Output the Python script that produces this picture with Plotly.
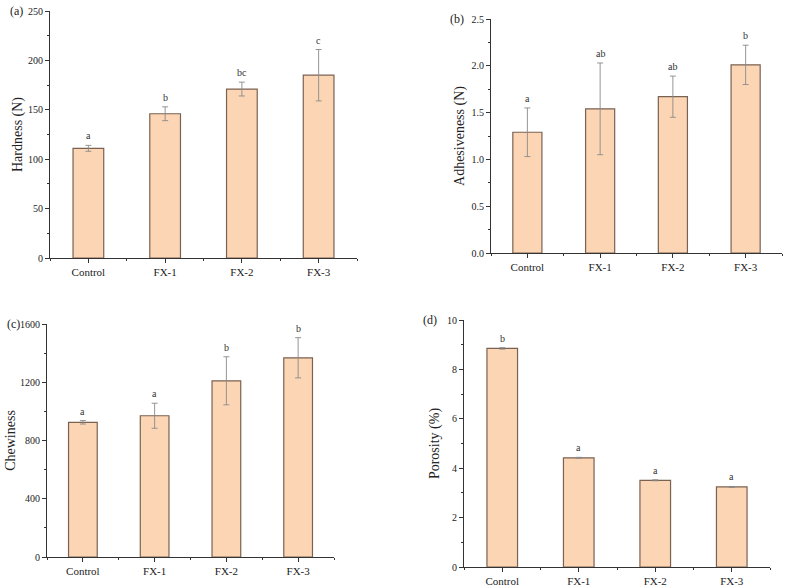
import plotly.graph_objects as go
from plotly.subplots import make_subplots

categories = ["Control", "FX-1", "FX-2", "FX-3"]

hardness = [111, 146, 171, 185]
hardness_err = [3, 7, 7, 26]
hardness_letters = ["a", "b", "bc", "c"]

adhesiveness = [1.29, 1.54, 1.67, 2.01]
adhesiveness_err = [0.26, 0.49, 0.22, 0.21]
adhesiveness_letters = ["a", "ab", "ab", "b"]

chewiness = [925, 970, 1210, 1368]
chewiness_err = [12, 86, 165, 138]
chewiness_letters = ["a", "a", "b", "b"]

porosity = [8.85, 4.42, 3.51, 3.24]
porosity_err = [0.03, 0.02, 0.02, 0.02]
porosity_letters = ["b", "a", "a", "a"]

panels = [
    ("(a)", "Hardness (N)", hardness, hardness_err, hardness_letters, [0, 250], 50, 25),
    ("(b)", "Adhesiveness (N)", adhesiveness, adhesiveness_err, adhesiveness_letters, [0, 2.5], 0.5, 0.25),
    ("(c)", "Chewiness", chewiness, chewiness_err, chewiness_letters, [0, 1600], 400, 200),
    ("(d)", "Porosity (%)", porosity, porosity_err, porosity_letters, [0, 10], 2, 1),
]

W, H = 787, 586
# pixel boxes: (left, right, top, bottom)
boxes = [(50, 357, 11, 258), (491, 782, 19, 253), (47, 334, 324, 557), (464, 770, 320, 567)]
title_gap = [2, 3, 1, 4]

FONT = "Liberation Serif, Times New Roman, serif"
AX = "#333333"
BAR_FILL = "#FCD6B4"
BAR_LINE = "#7a6253"

fig = make_subplots(rows=2, cols=2)
xpos = list(range(len(categories)))

for i, (lab, title, vals, errs, letters, yr, dt, mdt) in enumerate(panels):
    r, c = i // 2 + 1, i % 2 + 1
    fig.add_trace(go.Bar(
        x=xpos, y=vals, width=0.4,
        marker=dict(color=BAR_FILL, line=dict(color=BAR_LINE, width=1.2)),
        error_y=dict(type="data", array=errs, visible=True, color="#8a8a8a", thickness=0.9, width=3),
        showlegend=False,
    ), row=r, col=c)
    l, rt, t, b = boxes[i]
    xa = "xaxis" if i == 0 else f"xaxis{i+1}"
    ya = "yaxis" if i == 0 else f"yaxis{i+1}"
    xref = "x" if i == 0 else f"x{i+1}"
    yref = "y" if i == 0 else f"y{i+1}"
    fig.layout[xa].update(
        domain=[l / W, rt / W], range=[-0.5, 3.5], automargin=False,
        tickvals=xpos, ticktext=categories,
        ticks="outside", ticklen=4, tickwidth=1, tickcolor=AX,
        minor=dict(ticks="outside", ticklen=2, tick0=-0.5, dtick=1, tickcolor=AX),
        showline=True, linecolor=AX, linewidth=1.2, showgrid=False, zeroline=False,
        tickfont=dict(family=FONT, size=11, color="#222"),
    )
    fig.layout[ya].update(
        domain=[1 - b / H, 1 - t / H], range=yr, dtick=dt, tick0=0, automargin=False,
        ticks="outside", ticklen=4, tickwidth=1, tickcolor=AX,
        minor=dict(ticks="outside", ticklen=2, dtick=mdt, tickcolor=AX),
        showline=True, linecolor=AX, linewidth=1.2, showgrid=False, zeroline=False,
        tickformat=".1f" if i == 1 else None,
        tickfont=dict(family=FONT, size=10, color="#222"),
        title=dict(text=title, font=dict(family=FONT, size=14, color="#222"), standoff=title_gap[i]),
    )
    for j in range(len(categories)):
        fig.add_annotation(
            x=xpos[j], y=vals[j] + errs[j], xref=xref, yref=yref,
            text=letters[j], showarrow=False, yanchor="bottom", yshift=2,
            font=dict(family=FONT, size=10, color="#333"),
        )
    fig.add_annotation(
        x=(l - 25) / W, y=1 - t / H, xref="paper", yref="paper",
        text=lab, showarrow=False, xanchor="right", yanchor="middle",
        font=dict(family=FONT, size=12, color="#222"),
    )

fig.update_layout(
    width=W, height=H,
    margin=dict(l=0, r=0, t=0, b=0),
    paper_bgcolor="white", plot_bgcolor="white",
    font=dict(family=FONT),
)

fig.write_html(
    "out.html",
    config={"displayModeBar": False},
    post_script="document.body.style.margin='0';document.body.style.overflow='hidden';",
)
